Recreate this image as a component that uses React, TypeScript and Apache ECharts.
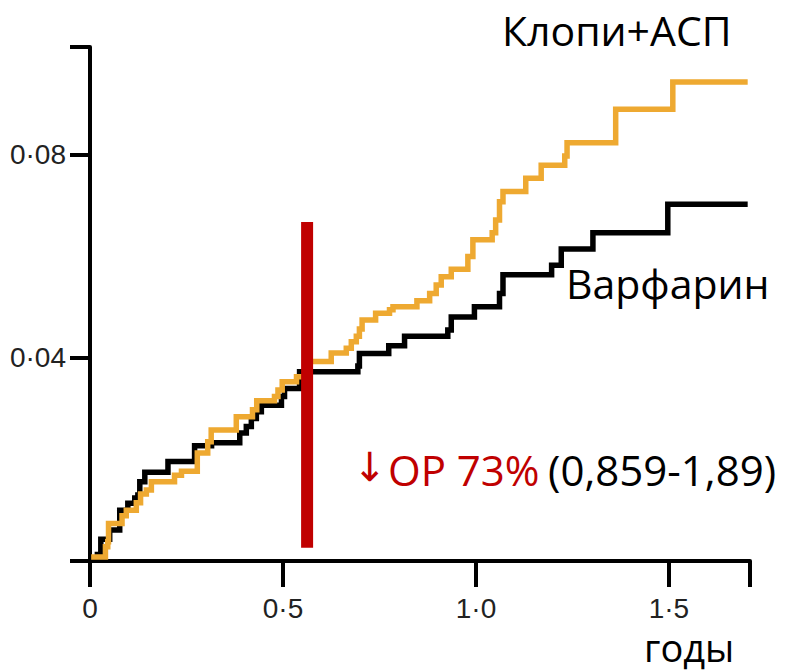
import React, { useEffect, useRef } from "react";
import * as echarts from "echarts";

// Клопи+АСП (orange) cumulative incidence: [years, value]
const orangeX = [0.003, 0.04, 0.046, 0.048, 0.083, 0.094, 0.12, 0.131, 0.146, 0.159, 0.219, 0.237, 0.278, 0.305, 0.314, 0.379, 0.421, 0.432, 0.478, 0.487, 0.498, 0.535, 0.556, 0.625, 0.664, 0.677, 0.69, 0.698, 0.705, 0.74, 0.776, 0.785, 0.847, 0.88, 0.897, 0.91, 0.936, 0.979, 0.992, 1.042, 1.051, 1.061, 1.07, 1.129, 1.169, 1.23, 1.236, 1.362, 1.51, 1.704];
const orangeY = [0.0008, 0.0028, 0.0038, 0.0074, 0.0089, 0.01, 0.0115, 0.0132, 0.014, 0.0156, 0.0169, 0.0177, 0.0213, 0.0235, 0.0258, 0.0284, 0.0298, 0.0316, 0.0324, 0.0337, 0.0353, 0.0363, 0.0393, 0.041, 0.0419, 0.0432, 0.0443, 0.0457, 0.0475, 0.0488, 0.0495, 0.0501, 0.0513, 0.0527, 0.0544, 0.056, 0.0575, 0.06, 0.0633, 0.0647, 0.0672, 0.0708, 0.0728, 0.0754, 0.078, 0.0798, 0.0824, 0.089, 0.0944, 0.0944];

// Варфарин (black)
const blackX = [0.012, 0.028, 0.051, 0.077, 0.098, 0.116, 0.124, 0.129, 0.142, 0.202, 0.271, 0.315, 0.388, 0.405, 0.418, 0.431, 0.444, 0.496, 0.504, 0.543, 0.694, 0.698, 0.774, 0.815, 0.927, 0.936, 0.996, 1.061, 1.07, 1.196, 1.221, 1.303, 1.497, 1.704];
const blackY = [0.0013, 0.0043, 0.0061, 0.01, 0.0114, 0.0124, 0.013, 0.0156, 0.0175, 0.0196, 0.0227, 0.0233, 0.0252, 0.0265, 0.0281, 0.0294, 0.0307, 0.0324, 0.034, 0.0373, 0.0384, 0.0409, 0.0424, 0.0443, 0.0455, 0.0481, 0.0501, 0.0527, 0.0564, 0.0583, 0.0615, 0.0647, 0.0703, 0.0703];

// red vertical marker
const markerX = [0.5625, 0.5625];
const markerY = [0.0026, 0.0668];

const xTicks = [0, 0.5, 1, 1.5, 1.71];
const xLabelValues = [0, 0.5, 1, 1.5];
const xLabelTexts = ["0", "0·5", "1·0", "1·5"];
const yTicks = [0, 0.04, 0.08, 0.10128];
const yLabelValues = [0.04, 0.08];
const yLabelTexts = ["0·04", "0·08"];

const X_MAX = 1.71;
const Y_MAX = 0.10128;

const zip = (xs: number[], ys: number[]) => xs.map((x, i) => [x, ys[i]]);

const TICK_FONT = "'Liberation Sans', Arial, sans-serif";
const TEXT_FONT = "'Open Sans', 'Noto Sans', sans-serif";

export default function App() {
  const ref = useRef<HTMLDivElement>(null);
  useEffect(() => {
    if (!ref.current) return;
    const chart = echarts.init(ref.current, undefined, { renderer: "svg" });
    const axisLine = { show: true, lineStyle: { color: "#000", width: 4 } };
    chart.setOption({
      animation: false,
      backgroundColor: "#fff",
      grid: { left: 90, top: 47, width: 660, height: 514, containLabel: false },
      xAxis: {
        type: "value",
        min: 0,
        max: X_MAX,
        axisLine: { ...axisLine, onZero: false },
        splitLine: { show: false },
        axisTick: { show: true, length: 26, lineStyle: { color: "#000", width: 4 }, customValues: xTicks },
        axisLabel: {
          customValues: xLabelValues,
          margin: 33,
          lineHeight: 28,
          fontFamily: TICK_FONT,
          fontSize: 28,
          color: "#222",
          formatter: (v: number) => {
            const i = xLabelValues.findIndex((u) => Math.abs(u - v) < 1e-6);
            return i >= 0 ? xLabelTexts[i] : "";
          },
        },
      },
      yAxis: {
        type: "value",
        min: 0,
        max: Y_MAX,
        axisLine: { ...axisLine, onZero: false },
        splitLine: { show: false },
        axisTick: { show: true, length: 20, lineStyle: { color: "#000", width: 4 }, customValues: yTicks },
        axisLabel: {
          customValues: yLabelValues,
          margin: 24,
          fontFamily: TICK_FONT,
          fontSize: 28,
          color: "#222",
          formatter: (v: number) => {
            const i = yLabelValues.findIndex((u) => Math.abs(u - v) < 1e-6);
            return i >= 0 ? yLabelTexts[i] : "";
          },
        },
      },
      series: [
        {
          name: "Варфарин",
          type: "line",
          step: "end",
          data: zip(blackX, blackY),
          showSymbol: false,
          lineStyle: { color: "#000", width: 5.5, cap: "butt", join: "miter" },
          z: 2,
        },
        {
          name: "Клопи+АСП",
          type: "line",
          step: "end",
          data: zip(orangeX, orangeY),
          showSymbol: false,
          lineStyle: { color: "#EEA931", width: 5.5, cap: "butt", join: "miter" },
          z: 3,
        },
        {
          name: "marker",
          type: "line",
          data: zip(markerX, markerY),
          showSymbol: false,
          lineStyle: { color: "#C00000", width: 12, cap: "butt" },
          z: 4,
        },
      ],
      graphic: [
        {
          type: "text",
          x: 502,
          y: 30,
          style: { text: "Клопи+АСП", font: `41px ${TEXT_FONT}`, fill: "#000", textAlign: "left", textVerticalAlign: "middle" },
        },
        {
          type: "text",
          x: 566,
          y: 283,
          style: { text: "Варфарин", font: `41px ${TEXT_FONT}`, fill: "#000", textAlign: "left", textVerticalAlign: "middle" },
        },
        {
          type: "text",
          x: 353,
          y: 467,
          style: { text: "↓", font: `40px 'DejaVu Sans', sans-serif`, fill: "#C00000", textAlign: "left", textVerticalAlign: "middle" },
        },
        {
          type: "text",
          x: 388,
          y: 469,
          style: { text: "ОР 73%", font: `42px ${TEXT_FONT}`, fill: "#C00000", textAlign: "left", textVerticalAlign: "middle" },
        },
        {
          type: "text",
          x: 548,
          y: 469,
          style: { text: "(0,859-1,89)", font: `42px ${TEXT_FONT}`, fill: "#000", textAlign: "left", textVerticalAlign: "middle" },
        },
        {
          type: "text",
          x: 644,
          y: 647,
          style: { text: "годы", font: `38px ${TEXT_FONT}`, lineHeight: 38, fill: "#000", textAlign: "left", textVerticalAlign: "middle" },
        },
      ],
    });
    return () => chart.dispose();
  }, []);
  return <div ref={ref} style={{ position: "fixed", left: 0, top: 0, width: 787, height: 672 }} />;
}
